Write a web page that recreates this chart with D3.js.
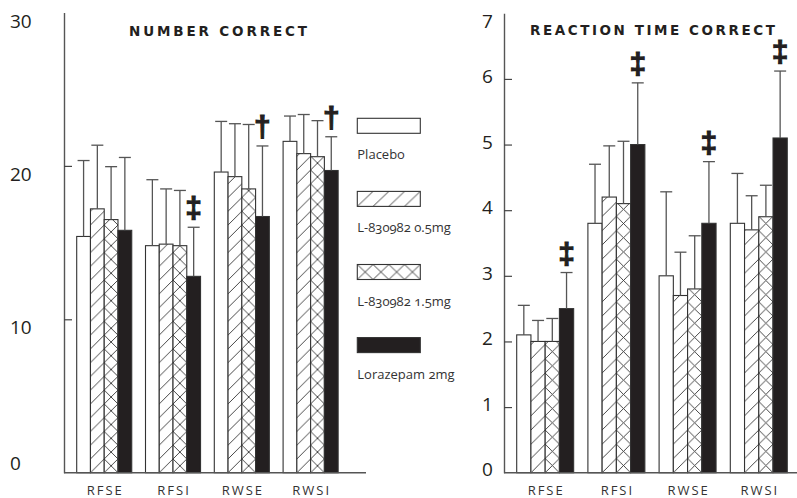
<!DOCTYPE html>
<meta charset="utf-8">
<script src="https://d3js.org/d3.v7.min.js"></script>
<style>
  body { margin: 0; background: #fff; }
  text { fill: #231f20; }
</style>
<div id="chart"></div>
<script>
// categories and treatments
const categories = ["RFSE", "RFSI", "RWSE", "RWSI"];
const treatments = ["Placebo", "L-830982 0.5mg", "L-830982 1.5mg", "Lorazepam 2mg"];

// number correct: mean and SD, one row per category (Placebo, 0.5mg, 1.5mg, Lorazepam)
const numberMeans = [
  [15.4, 17.2, 16.5, 15.8],
  [14.8, 14.9, 14.8, 12.8],
  [19.6, 19.3, 18.5, 16.7],
  [21.6, 20.8, 20.6, 19.7]
];
const numberSd = [
  [4.95, 4.15, 3.45, 4.75],
  [4.3, 3.6, 3.6, 3.2],
  [3.3, 3.45, 4.2, 4.6],
  [1.65, 2.55, 2.35, 2.2]
];
const numberMarks = [["RFSI", 3, "‡"], ["RWSE", 3, "†"], ["RWSI", 3, "†"]];
const numberTicks = [0, 10, 20, 30];

// reaction time correct
const rtMeans = [
  [2.1, 2.0, 2.0, 2.5],
  [3.8, 4.2, 4.1, 5.0],
  [3.0, 2.7, 2.8, 3.8],
  [3.8, 3.7, 3.9, 5.1]
];
const rtSd = [
  [0.45, 0.32, 0.35, 0.55],
  [0.9, 0.78, 0.95, 0.94],
  [1.28, 0.66, 0.81, 0.94],
  [0.76, 0.52, 0.48, 1.02]
];
const rtMarks = [["RFSE", 3, "‡"], ["RFSI", 3, "‡"], ["RWSE", 3, "‡"], ["RWSI", 3, "‡"]];
const rtTicks = [0, 1, 2, 3, 4, 5, 6, 7];

const width = 797, height = 498;
const ink = "#231f20";

const svg = d3.select("#chart").append("svg")
  .attr("width", width)
  .attr("height", height);
const defs = svg.append("defs");

function makePattern(id, x, y, w, h, cross, bbox) {
  const p = defs.append("pattern").attr("id", id);
  if (bbox) {
    p.attr("patternUnits", "objectBoundingBox")
      .attr("x", 0).attr("y", 0).attr("width", bbox).attr("height", 1);
  } else {
    p.attr("patternUnits", "userSpaceOnUse")
      .attr("x", x).attr("y", y).attr("width", w).attr("height", h);
  }
  p.append("rect").attr("width", w).attr("height", h).attr("fill", "#fff");
  let d = `M0,${h}L${w},0M-1,1L1,-1M${w - 1},${h + 1}L${w + 1},${h - 1}`;
  if (cross) d += `M0,0L${w},${h}M-1,${h - 1}L1,${h + 1}M${w - 1},-1L${w + 1},1`;
  p.append("path").attr("d", d)
    .attr("stroke", "#333").attr("stroke-width", 0.9).attr("fill", "none");
}

function drawPanel(cfg) {
  const g = svg.append("g");
  const y = d3.scaleLinear().domain([0, cfg.max]).range([cfg.bottom, cfg.top]);
  const x0 = d3.scaleBand().domain(categories)
    .range([cfg.start - 0.1 * cfg.step, cfg.start + 3.9 * cfg.step])
    .paddingInner(0.2).paddingOuter(0.1);
  const x1 = d3.scaleBand().domain(treatments).range([0, x0.bandwidth()]);
  const bw = x1.bandwidth();

  makePattern(cfg.id + "-diag", x0(categories[0]), y(0), bw, bw, false);
  makePattern(cfg.id + "-cross", x0(categories[0]), y(0), bw, bw, true);
  const fills = ["#fff", `url(#${cfg.id}-diag)`, `url(#${cfg.id}-cross)`, ink];

  // bars
  const rows = [];
  categories.forEach((c, i) => treatments.forEach((t, j) => {
    rows.push({ c, t, j, mean: cfg.means[i][j], sd: cfg.sd[i][j] });
  }));

  g.selectAll("rect.bar").data(rows).join("rect")
    .attr("class", "bar")
    .attr("x", d => x0(d.c) + x1(d.t))
    .attr("y", d => y(d.mean))
    .attr("width", bw)
    .attr("height", d => y(0) - y(d.mean))
    .attr("fill", d => fills[d.j])
    .attr("stroke", "#333")
    .attr("stroke-width", 1.1);

  // error bars
  const err = g.append("g").attr("stroke", "#555").attr("stroke-width", 1.3);
  err.selectAll("line.v").data(rows).join("line")
    .attr("x1", d => x0(d.c) + x1(d.t) + bw / 2)
    .attr("x2", d => x0(d.c) + x1(d.t) + bw / 2)
    .attr("y1", d => y(d.mean))
    .attr("y2", d => y(d.mean + d.sd));
  err.selectAll("line.cap").data(rows).join("line")
    .attr("x1", d => x0(d.c) + x1(d.t) + bw / 2 - 6)
    .attr("x2", d => x0(d.c) + x1(d.t) + bw / 2 + 6)
    .attr("y1", d => y(d.mean + d.sd))
    .attr("y2", d => y(d.mean + d.sd));

  // significance marks
  g.selectAll("text.mark").data(cfg.marks).join("text")
    .attr("class", "mark")
    .attr("x", d => x0(d[0]) + x1(treatments[d[1]]) + bw / 2)
    .attr("y", d => y(cfg.means[categories.indexOf(d[0])][d[1]] + cfg.sd[categories.indexOf(d[0])][d[1]]) - 9)
    .attr("text-anchor", "middle")
    .style("font-family", "Liberation Sans")
    .style("font-weight", "bold")
    .style("font-size", "30px")
    .style("stroke", ink)
    .style("stroke-width", 1.1)
    .text(d => d[2]);

  // y axis with inward ticks
  const yAxis = g.append("g")
    .attr("transform", `translate(${cfg.axisX},0)`)
    .call(d3.axisRight(y)
      .tickValues(cfg.ticks.slice(1, -1))
      .tickSize(8).tickSizeOuter(0).tickFormat(""));
  yAxis.select(".domain").attr("stroke", "#555").attr("stroke-width", 1.4);
  yAxis.selectAll(".tick line").attr("stroke", "#444").attr("stroke-width", 1.2);

  g.selectAll("text.ylab").data(cfg.ticks).join("text")
    .attr("class", "ylab")
    .attr("x", cfg.labelX)
    .attr("y", d => Math.min(Math.max(y(d) + cfg.shift, cfg.top + 8), cfg.bottom + cfg.bottomShift))
    .attr("dominant-baseline", "central")
    .style("font-family", "Open Sans")
    .style("font-size", "19px")
    .text(d => d);

  // baseline
  g.append("line")
    .attr("x1", cfg.axisX).attr("x2", cfg.axisEnd)
    .attr("y1", y(0)).attr("y2", y(0))
    .attr("stroke", "#555").attr("stroke-width", 1.4);

  const xAxis = g.append("g")
    .attr("transform", `translate(0,${y(0)})`)
    .call(d3.axisBottom(x0).tickSize(0).tickPadding(13));
  xAxis.select(".domain").remove();
  xAxis.selectAll("text")
    .attr("dx", "1px")
    .style("font-family", "Open Sans")
    .style("font-size", "13px")
    .style("letter-spacing", "2px")
    .style("fill", "#333");

  g.append("text")
    .attr("x", cfg.titleX).attr("y", cfg.titleY)
    .attr("text-anchor", "middle")
    .attr("textLength", cfg.titleLen)
    .attr("lengthAdjust", "spacing")
    .style("font-family", "DejaVu Sans")
    .style("font-weight", "bold")
    .style("font-size", "13.5px")
    .text(cfg.title);
}

drawPanel({
  id: "num", means: numberMeans, sd: numberSd, marks: numberMarks, ticks: numberTicks,
  max: 30, top: 12.5, bottom: 472.7, axisX: 64, axisEnd: 366,
  start: 76.7, step: 68.8, labelX: 10, shift: 8, bottomShift: -10,
  title: "NUMBER CORRECT", titleX: 218, titleY: 36, titleLen: 178
});

drawPanel({
  id: "rt", means: rtMeans, sd: rtSd, marks: rtMarks, ticks: rtTicks,
  max: 7, top: 13.3, bottom: 472.7, axisX: 504, axisEnd: 797,
  start: 516.7, step: 71.2, labelX: 482, shift: -3, bottomShift: -4,
  title: "REACTION TIME CORRECT", titleX: 652.5, titleY: 35, titleLen: 245
});

// legend
const legendX = 357.3, legendY = 118.3, legendStep = 73.1;
makePattern("leg-diag", 0, 0, 15.75, 15, false, 0.25);
makePattern("leg-cross", 0, 0, 15.75, 15, true, 0.25);
const legendFills = ["#fff", "url(#leg-diag)", "url(#leg-cross)", ink];

const legend = svg.append("g").selectAll("g").data(treatments).join("g")
  .attr("transform", (d, i) => `translate(${legendX},${legendY + i * legendStep})`);
legend.append("rect")
  .attr("width", 63).attr("height", 15)
  .attr("fill", (d, i) => legendFills[i])
  .attr("stroke", "#333").attr("stroke-width", 1.1);
legend.append("text")
  .attr("x", 0).attr("y", 36)
  .attr("dominant-baseline", "central")
  .style("font-family", "Open Sans")
  .style("font-size", "13px")
  .style("font-variant-numeric", "oldstyle-nums")
  .style("fill", "#333")
  .text(d => d);
</script>
